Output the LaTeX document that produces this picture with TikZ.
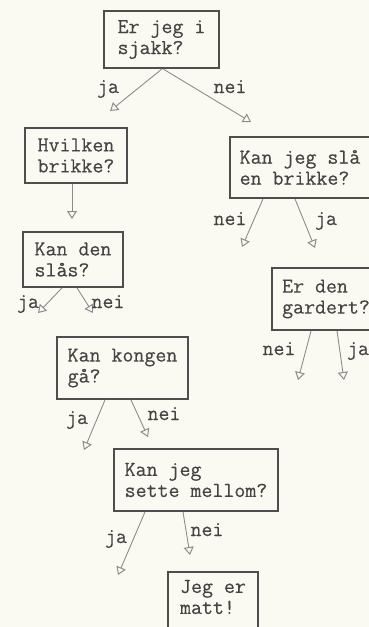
\documentclass[tikz,border=0pt]{standalone}
\usepackage{fontspec}
\newfontface\mono{Latin Modern Mono}[FakeBold=0.4]
\usetikzlibrary{arrows.meta}
\definecolor{bgc}{HTML}{FBFAF2}
\definecolor{boxc}{HTML}{4E4E4E}
\definecolor{txtc}{HTML}{444444}
\definecolor{linec}{HTML}{8C8C8C}
\tikzset{
  qbox/.style={draw=boxc, line width=1.8pt, inner sep=0pt, align=left, text=txtc,
    font={\mono\fontsize{21.3}{21}\selectfont}},
  lbl/.style={anchor=base, inner sep=0pt, text=txtc, font={\mono\fontsize{21.3}{21}\selectfont}},
  arr/.style={draw=linec, line width=0.9pt, -{Triangle[open,length=8pt,width=10pt,line width=1pt]}},
}
\begin{document}
\begin{tikzpicture}[x=1pt,y=-1pt]
\useasboundingbox (0,0) rectangle (369,627);
\fill[bgc] (0,0) rectangle (369,627);
\clip (0,0) rectangle (369,627);
% boxes
\node[qbox, minimum width=115pt, minimum height=57pt] (b1) at (161.5,39.5) {Er jeg i\\sjakk?};
\node[qbox, minimum width=102pt, minimum height=55pt] (b2) at (76,155.5) {Hvilken\\brikke?};
\node[qbox, minimum width=140pt, minimum height=61pt] (b3) at (300,167.5) {Kan jeg slå\\en brikke?};
\node[qbox, minimum width=100pt, minimum height=55pt] (b4) at (73,259.5) {Kan den\\slås?};
\node[qbox, minimum width=108pt, minimum height=62pt] (b5) at (326,299) {Er den\\gardert?};
\node[qbox, minimum width=131pt, minimum height=62pt] (b6) at (122.5,368) {Kan kongen\\gå?};
\node[qbox, minimum width=164pt, minimum height=62pt] (b7) at (196,480) {Kan jeg\\sette mellom?};
\node[qbox, minimum width=90pt, anchor=north, inner ysep=8pt, text depth=14pt] (b8) at (213,571) {Jeg er\\matt!};
% free ends
\coordinate (e1j) at (110,111);
\coordinate (e1n) at (251,122);
\coordinate (e2) at (72,219);
\coordinate (e3n) at (242,247);
\coordinate (e3j) at (315,248);
\coordinate (e4j) at (38,313);
\coordinate (e4n) at (93,313);
\coordinate (e5n) at (298,380);
\coordinate (e5j) at (344,380);
\coordinate (e6j) at (84,450);
\coordinate (e6n) at (148,437);
\coordinate (e7j) at (118,575);
\coordinate (e7n) at (190,555);
% connectors
\draw[arr] ([xshift=0.5pt]b1.south) -- (e1j);
\draw[arr] ([xshift=1.5pt]b1.south) -- (e1n);
\draw[arr] ([xshift=-4pt]b2.south) -- (e2);
\draw[arr] ([xshift=-37pt]b3.south) -- (e3n);
\draw[arr] ([xshift=-5pt]b3.south) -- (e3j);
\draw[arr] ([xshift=-11pt]b4.south) -- (e4j);
\draw[arr] ([xshift=4pt]b4.south) -- (e4n);
\draw[arr] ([xshift=-15pt]b5.south) -- (e5n);
\draw[arr] ([xshift=11pt]b5.south) -- (e5j);
\draw[arr] ([xshift=-17.5pt]b6.south) -- (e6j);
\draw[arr] ([xshift=8.5pt]b6.south) -- (e6n);
\draw[arr] ([xshift=-51pt]b7.south) -- (e7j);
\draw[arr] ([xshift=-13pt]b7.south) -- (e7n);
% labels
\node[lbl] (l1j) at (108,93) {ja};
\node[lbl] (l1n) at (230,93) {nei};
\node[lbl] (l3n) at (230,225) {nei};
\node[lbl] (l3j) at (326,225) {ja};
\node[lbl] (l4j) at (28,308) {ja};
\node[lbl] (l4n) at (108,308) {nei};
\node[lbl] (l5n) at (279,355) {nei};
\node[lbl] (l5j) at (358,355) {ja};
\node[lbl] (l6j) at (77,424) {ja};
\node[lbl] (l6n) at (164,420) {nei};
\node[lbl] (l7j) at (116,543) {ja};
\node[lbl] (l7n) at (207,536) {nei};
\end{tikzpicture}
\end{document}
